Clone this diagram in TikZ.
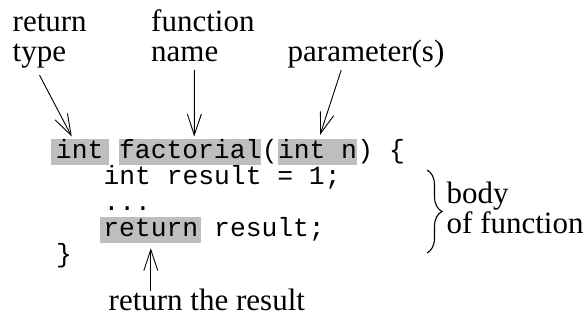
\documentclass[tikz,border=0pt]{standalone}
\usepackage{fontspec}
\setmainfont{Liberation Serif}
\setmonofont{Liberation Mono}
\usepackage{tikz}
\usetikzlibrary{positioning,arrows.meta,decorations.pathreplacing}
\definecolor{hlgray}{HTML}{BEBEBE}
\newcommand{\cd}{\ttfamily\fontsize{26.33pt}{26pt}\selectfont}
\newcommand{\lbl}{\rmfamily\fontsize{31pt}{30pt}\selectfont}

\begin{document}
\begin{tikzpicture}[x=1pt, y=-1pt,
  code/.style={inner sep=0pt, anchor=base west, font=\cd},
  hl/.style={fill=hlgray, inner xsep=0pt, inner ysep=5pt, text height=15pt, text depth=1pt, anchor=base, font=\cd},
  note/.style={inner sep=0pt, anchor=base west, align=left, font=\lbl},
  arr/.style={-{Straight Barb[length=21pt,width=14pt]}, line width=0.9pt},
  brc/.style={decorate, decoration={brace, amplitude=15pt}, line width=1.1pt}
]
\useasboundingbox (0,0) rectangle (587,320);
% the code, one column = 15.8pt
\node[hl, inner xsep=5.3pt] (rtype) at (79.7,159) {int};
\node[hl] (fname) at (190.3,159) {factorial};
\node[code, base right=0pt of fname] (lpar) {(};
\node[hl, base right=0pt of lpar] (param) {int n};
\node[code, base right=0pt of param] (rpar) {) \{};
\node[code] (body1) at (103.4,185) {int result = 1;};
\node[code] (body2) at (103.4,211) {...};
\node[hl, inner xsep=3pt] (retkw) at (150.8,237) {return};
\node[code] (retval) at (214,237) {result;};
\node[code] (close) at (56,263) {\}};
% the notes (base = last line)
\node[note] (rtlabel) at (12.5,61.7) {return\\type};
\node[note] (fnlabel) at (151,61.7) {function\\name};
\node[note] (parlabel) at (287.5,62) {parameter(s)};
\node[note] (bodylabel) at (446.5,233.3) {body\\[-0.7pt]of function};
\node[note] (retlabel) at (108.5,311) {return the result};
\draw[arr] ([xshift=-10.2pt,yshift=-6.6pt]rtlabel.south) -- ([xshift=-8pt,yshift=2.3pt]rtype.north);
\draw[arr] ([xshift=-8.4pt,yshift=-7.6pt]fnlabel.south) -- ([xshift=4pt,yshift=2.3pt]fname.north);
\draw[arr] ([xshift=-24.8pt,yshift=-1.3pt]parlabel.south) -- ([xshift=2.6pt,yshift=4pt]param.north);
\draw[arr] ([yshift=-2pt]retlabel.north -| retkw.south) -- ([yshift=-5pt]retkw.south);
\draw[brc] (427,170) -- (427,253);
\end{tikzpicture}
\end{document}
